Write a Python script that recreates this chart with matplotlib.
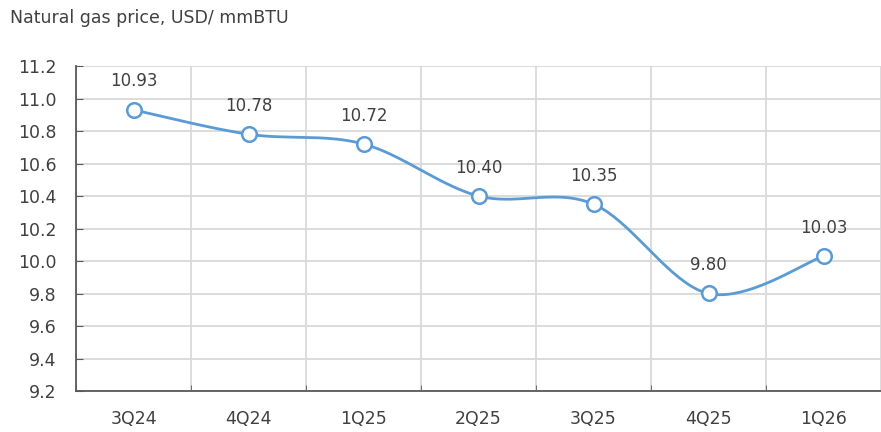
import matplotlib.pyplot as plt
import numpy as np

quarters = ['3Q24', '4Q24', '1Q25', '2Q25', '3Q25', '4Q25', '1Q26']
price = [10.93, 10.78, 10.72, 10.40, 10.35, 9.80, 10.03]

blue = '#5B9BD5'
grey = '#595959'
txt = '#404040'

# excel-style smoothed line: cubic bezier between points
x = np.arange(len(price), dtype=float)
y = np.array(price)
xs, ys = [], []
for i in range(len(x) - 1):
    p0 = np.array([x[max(i - 1, 0)], y[max(i - 1, 0)]])
    p1 = np.array([x[i], y[i]])
    p2 = np.array([x[i + 1], y[i + 1]])
    p3 = np.array([x[min(i + 2, len(x) - 1)], y[min(i + 2, len(x) - 1)]])
    c1 = p1 + (p2 - p0) / 6
    c2 = p2 - (p3 - p1) / 6
    t = np.linspace(0, 1, 40)[:, None]
    pts = (1 - t)**3 * p1 + 3 * (1 - t)**2 * t * c1 + 3 * (1 - t) * t**2 * c2 + t**3 * p2
    xs.extend(pts[:, 0])
    ys.extend(pts[:, 1])

fig = plt.figure(figsize=(8.81, 4.32), dpi=100)
ax = fig.add_axes([76 / 881, 1 - 391 / 432, 805 / 881, 325 / 432])

ax.plot(xs, ys, color=blue, lw=2, zorder=3)
ax.plot(x, y, 'o', ms=10.5, mfc='white', mec=blue, mew=1.8, zorder=4)
for xi, yi in zip(x, y):
    ax.annotate(f'{yi:.2f}', (xi, yi), xytext=(0, 14), textcoords='offset points',
                ha='center', va='bottom', fontsize=12, color=txt)

ax.set_xlim(-0.5, len(price) - 0.5)
ax.set_ylim(9.2, 11.2)
ax.set_yticks(np.arange(9.2, 11.21, 0.2))
ax.set_yticklabels([f'{v:.1f}' for v in np.arange(9.2, 11.21, 0.2)])
ax.set_xticks(x)
ax.set_xticklabels(quarters)
ax.set_xticks(np.arange(-0.5, len(price), 1), minor=True)
ax.tick_params(axis='x', which='major', length=0, pad=14, labelsize=12.5, labelcolor=txt)
ax.tick_params(axis='x', which='minor', length=4, direction='in', color=grey)
ax.tick_params(axis='y', length=5, direction='in', color=grey, labelsize=12.5, labelcolor=txt, pad=14)

ax.grid(axis='y', color='#D9D9D9', lw=1.3)
ax.grid(axis='x', which='minor', color='#D9D9D9', lw=1.3)
ax.set_axisbelow(True)
for s in ['top', 'right']:
    ax.spines[s].set_visible(False)
for s in ['left', 'bottom']:
    ax.spines[s].set_color(grey)
    ax.spines[s].set_linewidth(1.3)

fig.text(10 / 881, 1 - 18 / 432, 'Natural gas price, USD/ mmBTU', fontsize=12.5, color=txt,
         va='center', ha='left')

fig.savefig('out.png', dpi=100)
